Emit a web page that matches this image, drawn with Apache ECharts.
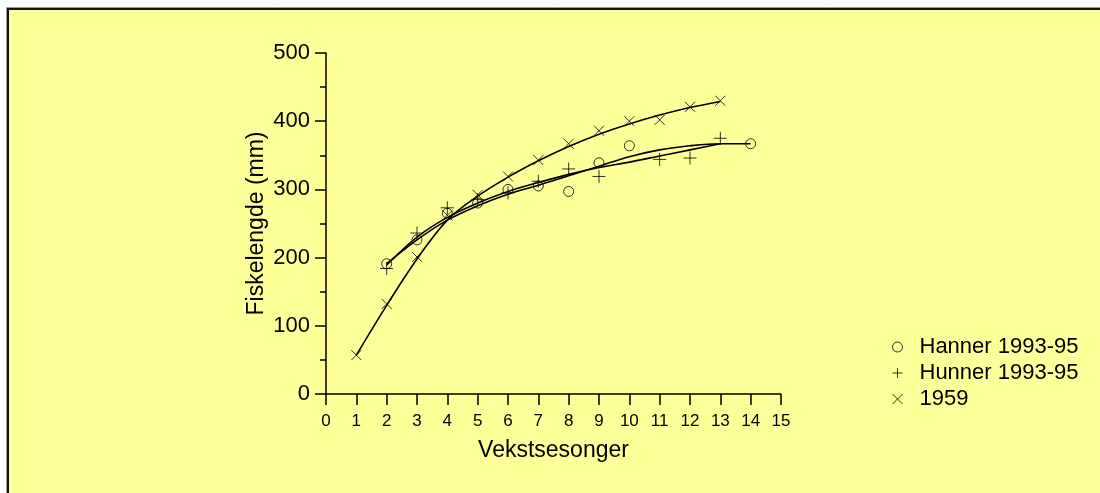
<!DOCTYPE html>
<html>
<head>
<meta charset="utf-8">
<script src="https://cdn.jsdelivr.net/npm/echarts@6/dist/echarts.min.js"></script>
<style>
html,body{margin:0;padding:0;background:#FFFF99;width:1100px;height:493px;overflow:hidden;}
#chart{position:absolute;left:0;top:0;width:1100px;height:493px;}
</style>
</head>
<body>
<div id="chart"></div>
<script>
// Observed data
const xHanner = [2,3,4,5,6,7,8,9,10,14];
const yHanner = [191,226,265,280,300,305,297,339,364,367];
const xHunner = [2,3,4,5,6,7,8,9,11,12,13];
const yHunner = [184,236,273,285,295,312,330,319,344,346,375];
const x1959 = [1,2,3,4,5,6,7,8,9,10,11,12,13];
const y1959 = [57,132,201,262,292,319,343,367,386,400,402,421,430];
// Fitted curves
const fitXHanner = [2,3,4,5,6,7,8,9,10,11,12,13,14];
const fitHanner = [191,226,255,276,293,306,320,334,348,358,364,367,367];
const fitXHunner = [2,3,4,5,6,7,8,9,10,11,12,13];
const fitHunner = [189,230,259,280,297,310,322,332,340,349,358,367];
const fitX1959 = [1,2,3,4,5,6,7,8,9,10,11,12,13];
const fit1959 = [57,130,198,255,290,318,342,363,381,396,409,420,429];
const seriesNames = ['Hanner 1993-95','Hunner 1993-95','1959'];

const zip = (xs, ys) => xs.map((x, i) => [x, ys[i]]);
const PLUS = 'path://M0,5L10,5M5,0L5,10';
const CROSS = 'path://M0,0L10,10M0,10L10,0';
const FONT = 'Liberation Sans, Arial, sans-serif';

const markerStyle = {color: 'rgba(0,0,0,0)', borderColor: '#000', borderWidth: 1};
const iconStyle = {color: 'rgba(0,0,0,0)', borderColor: '#000', borderWidth: 1};
const lineStyle = {color: '#000', width: 1.6};

const chart = echarts.init(document.getElementById('chart'), null, {renderer: 'canvas'});
chart.setOption({
  backgroundColor: 'transparent',
  animation: false,
  textStyle: {fontFamily: FONT, color: '#000'},
  graphic: [
    {type: 'rect', silent: true, z: -10, shape: {x: 0, y: 0, width: 1100, height: 8}, style: {fill: '#fff'}},
    {type: 'rect', silent: true, z: -10, shape: {x: 0, y: 0, width: 7, height: 493}, style: {fill: '#fff'}},
    {type: 'polyline', silent: true, shape: {points: [[6.5, 493], [6.5, 7.5], [1100, 7.5]]}, style: {stroke: '#999', lineWidth: 1, fill: null}},
    {type: 'polyline', silent: true, shape: {points: [[8, 493], [8, 9], [1100, 9]]}, style: {stroke: '#111', lineWidth: 2, fill: null}}
  ],
  grid: {left: 326, right: 319, top: 53, bottom: 99, containLabel: false},
  legend: {
    orient: 'vertical', left: 887, top: 331, itemGap: 4,
    itemWidth: 34, itemHeight: 10,
    textStyle: {fontFamily: FONT, fontSize: 22, color: '#000'},
    data: [
      {name: seriesNames[0], icon: 'circle', itemStyle: iconStyle},
      {name: seriesNames[1], icon: PLUS, itemStyle: iconStyle},
      {name: seriesNames[2], icon: CROSS, itemStyle: iconStyle}
    ]
  },
  xAxis: {
    type: 'value', min: 0, max: 15, interval: 1,
    name: 'Vekstsesonger', nameLocation: 'middle', nameGap: 45,
    nameTextStyle: {fontFamily: FONT, fontSize: 23, color: '#000'},
    axisLine: {onZero: false, lineStyle: {color: '#000', width: 1.5}},
    axisTick: {show: true, inside: false, length: 11, lineStyle: {color: '#000', width: 1.5}},
    axisLabel: {fontFamily: FONT, fontSize: 17, color: '#000', margin: 19},
    splitLine: {show: false}
  },
  yAxis: {
    type: 'value', min: 0, max: 500, interval: 100,
    name: 'Fiskelengde (mm)', nameLocation: 'middle', nameGap: 58,
    nameTextStyle: {fontFamily: FONT, fontSize: 23, color: '#000'},
    axisLine: {onZero: false, lineStyle: {color: '#000', width: 1.5}},
    axisTick: {show: true, inside: false, length: 11, lineStyle: {color: '#000', width: 1.5}},
    minorTick: {show: true, splitNumber: 2, length: 6, lineStyle: {color: '#000', width: 1.5}},
    axisLabel: {fontFamily: FONT, fontSize: 22, color: '#000', margin: 16},
    splitLine: {show: false}
  },
  series: [
    {name: 'fitHanner', type: 'line', data: zip(fitXHanner, fitHanner), smooth: 0.35, showSymbol: false, lineStyle: lineStyle, z: 2, silent: true},
    {name: 'fitHunner', type: 'line', data: zip(fitXHunner, fitHunner), smooth: 0.35, showSymbol: false, lineStyle: lineStyle, z: 2, silent: true},
    {name: 'fit1959', type: 'line', data: zip(fitX1959, fit1959), smooth: 0.35, showSymbol: false, lineStyle: lineStyle, z: 2, silent: true},
    {name: seriesNames[0], type: 'scatter', data: zip(xHanner, yHanner), symbol: 'circle', symbolSize: 10, itemStyle: markerStyle, z: 3},
    {name: seriesNames[1], type: 'scatter', data: zip(xHunner, yHunner), symbol: PLUS, symbolSize: 13, itemStyle: markerStyle, z: 3},
    {name: seriesNames[2], type: 'scatter', data: zip(x1959, y1959), symbol: CROSS, symbolSize: 10, itemStyle: markerStyle, z: 3}
  ]
});
</script>
</body>
</html>
